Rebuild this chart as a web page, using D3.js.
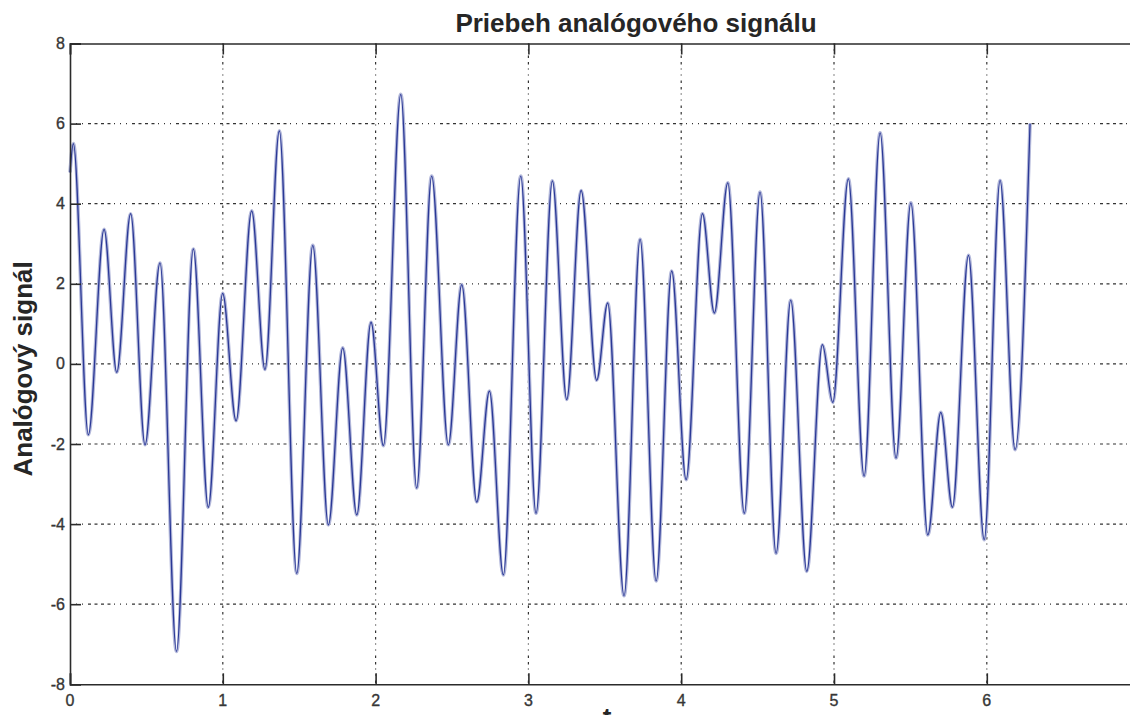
<!DOCTYPE html>
<html lang="sk">
<head>
    <meta charset="UTF-8">
    <title>Priebeh analógového signálu</title>
    <script src="https://d3js.org/d3.v7.min.js"></script>
    <style>
        body {
            margin: 0;
            background: white;
            overflow: hidden;
        }
        svg {
            background-color: white;
            display: block;
        }
        .tick-label {
            font-family: "Liberation Sans", Arial, sans-serif;
            font-size: 16px;
            fill: #363636;
            stroke: #363636;
            stroke-width: 0.35;
        }
        .title, .ylabel, .xlabel {
            font-family: "Liberation Sans", Arial, sans-serif;
            font-size: 26px;
            font-weight: bold;
            fill: #262626;
        }
    </style>
</head>
<body>
    <script>
        // signal extrema (t, value)
        const tValues = [0, 0.022, 0.120, 0.223, 0.306, 0.397, 0.491, 0.589, 0.697, 0.807,
                         0.905, 0.999, 1.087, 1.189, 1.276, 1.370, 1.484, 1.589, 1.691, 1.785,
                         1.877, 1.970, 2.051, 2.165, 2.269, 2.367, 2.476, 2.564, 2.662, 2.745,
                         2.836, 2.950, 3.050, 3.157, 3.251, 3.345, 3.447, 3.519, 3.626, 3.731,
                         3.836, 3.938, 4.032, 4.139, 4.217, 4.305, 4.413, 4.516, 4.621, 4.717,
                         4.822, 4.924, 4.992, 5.094, 5.197, 5.302, 5.406, 5.503, 5.614, 5.699,
                         5.775, 5.880, 5.983, 6.087, 6.185, 6.283];
        const signalValues = [4.78, 5.50, -1.77, 3.36, -0.21, 3.75, -2.02, 2.52, -7.18, 2.87,
                              -3.58, 1.76, -1.42, 3.82, -0.14, 5.82, -5.23, 2.96, -4.02, 0.40,
                              -3.77, 1.04, -2.04, 6.73, -3.10, 4.69, -2.02, 1.98, -3.45, -0.68,
                              -5.27, 4.69, -3.73, 4.57, -0.89, 4.33, -0.41, 1.52, -5.79, 3.11,
                              -5.42, 2.32, -2.89, 3.75, 1.27, 4.52, -3.73, 4.29, -4.73, 1.59,
                              -5.18, 0.48, -0.96, 4.62, -2.80, 5.77, -2.35, 4.02, -4.27, -1.21,
                              -3.58, 2.71, -4.39, 4.58, -2.14, 6.00];
        const xTicks = [0, 1, 2, 3, 4, 5, 6];
        const yTicks = [-8, -6, -4, -2, 0, 2, 4, 6, 8];

        const width = 1130;
        const height = 715;
        const margin = {top: 43.5, left: 70, bottom: 684.3};
        const axisColor = '#2b2b2b';

        const svg = d3.select('body')
                      .append('svg')
                      .attr('width', width)
                      .attr('height', height);

        const xScale = d3.scaleLinear()
                         .domain([0, 7])
                         .range([margin.left, margin.left + 7 * 152.8]);

        const yScale = d3.scaleLinear()
                         .domain([-8, 8])
                         .range([margin.bottom, margin.top]);

        const data = tValues.map((t, i) => ({t: t, v: signalValues[i]}));

        // grid (matlab style dotted grid)
        svg.append('g')
           .selectAll('line')
           .data(yTicks.filter(d => d > -8 && d < 8))
           .join('line')
           .attr('x1', margin.left)
           .attr('x2', xScale(7))
           .attr('y1', d => yScale(d))
           .attr('y2', d => yScale(d))
           .attr('stroke', '#333')
           .attr('stroke-width', 1.2)
           .attr('stroke-dasharray', '1,5,1,5,1,5,3,3.5,3,3.5,3,3.5,3,3.5');

        svg.append('g')
           .selectAll('line')
           .data(xTicks.filter(d => d > 0))
           .join('line')
           .attr('x1', d => xScale(d))
           .attr('x2', d => xScale(d))
           .attr('y1', margin.top)
           .attr('y2', margin.bottom)
           .attr('stroke', '#333')
           .attr('stroke-width', 1.2)
           .attr('stroke-dasharray', '1,5,1,5,2.5,4,2.5,4');

        // signal
        const line = d3.line()
                       .x(d => xScale(d.t))
                       .y(d => yScale(d.v))
                       .curve(d3.curveMonotoneX);

        svg.append('path')
           .datum(data)
           .attr('d', line)
           .attr('fill', 'none')
           .attr('stroke', '#b3b8da')
           .attr('stroke-width', 3.6);

        svg.append('path')
           .datum(data)
           .attr('d', line)
           .attr('fill', 'none')
           .attr('stroke', '#2a3896')
           .attr('stroke-width', 1.3);

        // axes frame + inward ticks
        const xAxisBottom = d3.axisBottom(xScale).tickValues(xTicks).tickSize(-11).tickFormat('');
        const xAxisTop = d3.axisTop(xScale).tickValues(xTicks).tickSize(-11).tickFormat('');
        const yAxisLeft = d3.axisLeft(yScale).tickValues(yTicks).tickSize(-11).tickFormat('');

        const gB = svg.append('g').attr('transform', `translate(0,${margin.bottom})`).call(xAxisBottom);
        const gT = svg.append('g').attr('transform', `translate(0,${margin.top})`).call(xAxisTop);
        const gL = svg.append('g').attr('transform', `translate(${margin.left},0)`).call(yAxisLeft);

        [gB, gT, gL].forEach(g => {
            g.select('.domain').attr('stroke', axisColor).attr('stroke-width', 1.6);
            g.selectAll('.tick line').attr('stroke', axisColor).attr('stroke-width', 1.6);
        });

        // tick labels
        svg.append('g')
           .selectAll('text')
           .data(xTicks)
           .join('text')
           .attr('class', 'tick-label')
           .attr('x', d => xScale(d))
           .attr('y', 706)
           .attr('text-anchor', 'middle')
           .text(d => d);

        svg.append('g')
           .selectAll('text')
           .data(yTicks)
           .join('text')
           .attr('class', 'tick-label')
           .attr('x', 65)
           .attr('y', d => yScale(d) + 5.5)
           .attr('text-anchor', 'end')
           .text(d => d);

        // labels
        svg.append('text')
           .attr('class', 'title')
           .attr('x', 636)
           .attr('y', 32)
           .attr('text-anchor', 'middle')
           .text('Priebeh analógového signálu');

        svg.append('text')
           .attr('class', 'ylabel')
           .attr('transform', `translate(32,${yScale(0) + 5}) rotate(-90)`)
           .attr('text-anchor', 'middle')
           .text('Analógový signál');

        // x label sits at the very bottom edge, as in the original
        svg.append('text')
           .attr('class', 'xlabel')
           .attr('x', 607)
           .attr('y', 726)
           .attr('text-anchor', 'middle')
           .text('t');
    </script>
</body>
</html>
